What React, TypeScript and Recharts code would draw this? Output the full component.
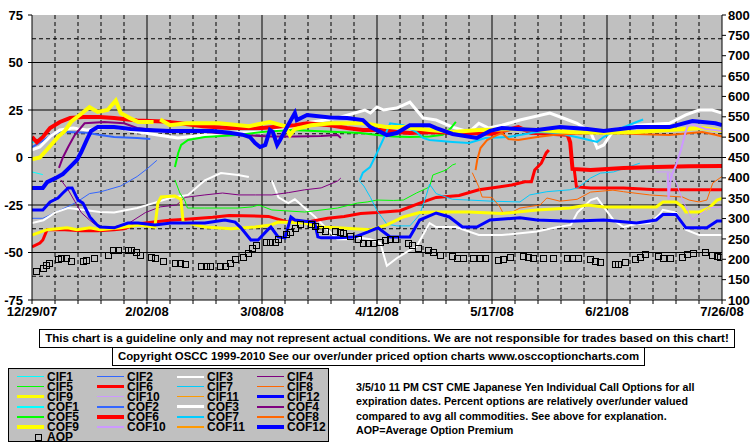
import React from 'react';
import { ComposedChart, Line, Scatter, XAxis, YAxis, CartesianGrid } from 'recharts';

type Pt = [number, number | null];

// x = days since 12/29/07
const tickDays = [0, 35, 70, 105, 140, 175, 210];
const tickLabels = ['12/29/07', '2/02/08', '3/08/08', '4/12/08', '5/17/08', '6/21/08', '7/26/08'];
const leftTicks = [-75, -50, -25, 0, 25, 50, 75];
const rightTicks = [100, 150, 200, 250, 300, 350, 400, 450, 500, 550, 600, 650, 700, 750, 800];

const cif1: Pt[] = [[0, -7.6], [3.3, -9]];
const cif2: Pt[] = [[0, -32], [3.3, -32], [7, -29], [10.7, -26], [13.7, -23.4], [17.5, -19], [21, -18], [23, -17], [27, -15], [30, -12], [32, -10], [35, -6], [38, -1.5]];
const cif3: Pt[] = [[0, -34.5], [3.5, -33], [7, -29], [11, -26.6], [16, -27.6], [20.7, -28.7], [25, -29], [32, -26.6], [37, -24], [42, -21.3], [47.5, -19.7], [52.6, -12], [57.5, -8.2], [62.7, -9.2], [66, -10.3], [68, null],
  [73, -12], [75, -21], [78, -24], [80, -22], [82, -25], [86, -31], [90, -38], [93, -43], [96, -43], [99, -42], [103, -43], [106, -45], [108, -57], [111, -53], [115, -48.7], [117, -47], [121, -34.5], [123, -36.6], [129, -36.6], [136, -40.8], [143, -40.8], [153.7, -39], [160, -36.6], [164, -35.5], [166, -29], [170, -22.4], [172, -21.3], [174, -26], [177, -33], [180, -36.6], [184, -35], [188, -34.5], [191, -30], [192, -27.6], [196, -29], [199, -38], [203, -40.8], [210, -40.8]];
const cif4: Pt[] = [[8.8, -11.8], [11, -17], [13, -23], [15, -29], [17.5, -32.9], [19, -35], [22, -37], [25, -36.6], [30, -34], [34.5, -29], [39, -26], [44, -25], [46.6, -21], [52.6, -19.7], [58, -18.7], [63, -19.7], [68, -19.7], [73, -19.7], [78, -18.5], [83, -17], [88, -16], [93, -12.4], [94, -10.8]];
const cif5: Pt[] = [[43.5, -11.8], [45, -18.7], [46.6, -23], [47.3, -26.6], [52.6, -26.6], [62.7, -26.6], [67, -26], [69, -25], [73, -27.6], [83, -28.7], [93, -26.6], [99, -24], [102, -23.4], [105, -22.4], [110, -22.6], [113, -22.4], [117, -18.7], [121, -15.5], [122, -9.2], [126, -6.6], [128, -3.9], [129, -3.3]];
const cif6: Pt[] = [[0, -47], [2.4, -45], [3.3, -43.4], [4.6, -38], [10, -38], [15, -38.5], [20, -38.5], [25, -38], [28, -37.5], [32, -35], [37, -34], [42, -33], [47, -32.5], [55, -31.5], [60, -30.5], [72, -31], [78, -34], [85, -33.5], [90, -32], [95, -31], [100, -29.5], [105, -29], [112, -28], [118, -24], [123, -21], [130, -20], [136, -17], [142, -15.5], [146, -14.5], [150, -12.8], [152, -12.8], [153, -6.6], [155, -3], [156.5, 2.4], [157.3, 4], [160, null],
  [165, -6], [165.7, -15.5], [170, -16], [180, -16], [190, -17], [200, -17], [210, -17]];
const cif7: Pt[] = [[99.5, -12], [101, -15], [103, -21], [105, -28], [108, -35], [111, -36], [115, -36], [118, -30], [120, -20], [121, -14], [123, -19], [128, -22], [133, -22.4], [140, -23], [148.5, -23.4], [151.5, -19.7], [156.7, -18], [163.7, -17], [166, -16], [170, -10.8], [173, -8.2], [177, -7.6], [185, -3]];
const cif8: Pt[] = [[134, -8], [136, -15.5], [137, -20.8], [140, -21], [142.4, -26], [143.3, -29], [146.4, -28.5], [148.5, -26.6], [154.6, -25], [156.7, -21.3], [160.7, -23], [165.9, -22], [170, -18.2], [176.8, -17.2], [180, -18], [188, -19.7], [198, -20.8], [200, -22.4], [203, -23.4], [205.4, -22.4], [207.2, -13.4], [210, -10]];
const cif9: Pt[] = [[0, -40.8], [4.6, -38], [10.7, -37], [13.7, -38], [17.6, -37], [20.7, -38], [27, -37], [32.3, -35.5], [37.4, -36.6], [38.3, -24], [39.3, -20.8], [43.5, -20.3], [45.3, -22], [46, -34], [52.6, -36.6], [60.6, -37.5], [67.9, -36.6], [72.7, -35.5], [75, -34], [83, -34.5], [88, -36.6], [93, -37], [103, -38], [108, -35.5], [113, -31.3], [118, -29], [123, -28.7], [133, -28.7], [143, -29.5], [153.7, -27.6], [163.7, -26.6], [169, -25], [174, -26], [184, -26], [190, -26], [192, -23.4], [196, -23.4], [198, -26], [199, -28.7], [203, -28.7], [206, -26.6], [208.5, -22.4], [210, -21.6]];
const cif10: Pt[] = [[190, -7.6], [194, -7.6], [196, -13], [198, -22.4], [201, -32.9], [203, -30.3], [206, -26.5], [210, -26]];
const cif11: Pt[] = [];
const cif12: Pt[] = [[0, -27.6], [3.3, -27.6], [5.5, -23.4], [7.9, -21.3], [9.4, -18.7], [11, -16], [12.2, -16], [14, -22.4], [15.5, -24], [17.6, -31.3], [19.8, -35.5], [20.7, -36.6], [25, -37], [29.2, -34.5], [32.3, -34.5], [37.4, -35.5], [42.3, -34.5], [47.5, -34.5], [52.6, -34.5], [58.7, -32.9], [61.8, -34], [63.6, -37], [66.6, -43.4], [68.8, -43.4], [71.8, -38], [72.7, -36.6], [74.9, -41.8], [77, -42.3], [78.8, -31.3], [80, -32.9], [83, -33.5], [86, -34], [87, -41.8], [88, -42.3], [93, -42.3], [98.3, -41.8], [102.3, -39.2], [105.3, -37], [109, -41.8], [115, -41.8], [118, -32.9], [123, -29.2], [127, -31.3], [131, -36.6], [135.4, -36.6], [139.4, -32.9], [148.5, -31.7], [153.7, -32.9], [163.7, -33.5], [174, -32.9], [184, -34.5], [190, -32.9], [192, -30], [196, -30], [199, -37], [205.4, -37], [208.5, -33.4], [210, -33.4]];

const cof1: Pt[] = [[0, 8], [1.5, 8.5], [3.3, 12]];
const cof2: Pt[] = [[0, 5.5], [3.5, 9], [7, 13], [10.7, 13.4], [16.7, 13], [20.7, 11.8], [25, 10.8], [32, 10.3], [36, 9.7]];
const cof3: Pt[] = [[0, 4], [2.4, 5.5], [5.5, 11], [8.5, 14.5], [12.5, 15.5], [16.7, 14.5], [20.7, 15.5], [25, 16], [32.3, 13.4], [42.3, 10.8], [44.4, 10.3], [52.6, 11.8], [62.7, 13], [72.7, 13.4], [83, 18], [93, 20.8], [101.3, 25], [103, 23.4], [105, 26.6], [107, 25], [111, 26], [115, 29.2], [117, 25], [119, 20.8], [123, 19.7], [128, 16], [133, 13.4], [136, 18], [139, 15.5], [143, 17], [148.5, 19.7], [157.6, 23.4], [161.6, 20.8], [165.9, 18], [170, 13.4], [172, 5], [174, 6.6], [177, 14.5], [184, 17], [194, 18], [199, 22.4], [203, 25], [207, 25], [210, 23.4]];
const cof4: Pt[] = [[8.2, -5.5], [9.4, 0], [11, 5.5], [13, 11.8], [16, 18], [22, 18.7], [28, 18], [32, 15.5], [42, 13.4], [52.6, 13.4], [62.7, 12], [72.7, 11], [80, 11], [88, 11.3], [93, 11.8], [94, 10.3]];
const cof5: Pt[] = [[43.5, -5], [44.5, 2.4], [45.4, 6.6], [47.5, 9.2], [52.6, 10.8], [62.7, 11.8], [70, 13.4], [79, 14.5], [93, 13.4], [100, 12.9], [105, 11.8], [110, 11], [115, 10.8], [121, 11], [125, 12], [127.5, 15.5], [129, 18.7]];
const cof6: Pt[] = [[0, 10.8], [1.5, 8], [3.3, 10.8], [5.5, 15.5], [8.5, 18.7], [11.6, 20.8], [15.5, 21.3], [20.7, 21.3], [25, 20.8], [32, 19.5], [40, 19], [45, 18], [52, 16.5], [60, 15.5], [70, 15.5], [80, 17], [83.7, 18], [90.7, 17], [95.9, 15.5], [100.7, 14.5], [106, 14.5], [111, 13.4], [115, 12.9], [121, 13.4], [130, 13], [140, 12.5], [148, 16], [152, 13], [163, 12], [163.8, 8], [164.5, -6], [170, -6.6], [180, -5.5], [190, -5], [200, -4.6], [210, -4.5]];
const cof7: Pt[] = [[99.8, -11.8], [100.7, -8], [102.9, -5], [105, 2.4], [106.8, 9.2], [109, 18], [113, 17], [117, 13.4], [119, 10.3], [121, 9.2], [128, 8.2], [133, 7.6], [138, 10.3], [145, 10.8], [153.7, 13.4], [160, 12.9], [167, 10.3], [172, 8.2], [174, 10.8], [178, 14.5], [184, 18.7], [186, 20]];
const cof8: Pt[] = [[135, -6.6], [135.5, -1.3], [136.5, 5], [138.5, 9.2], [141.5, 11.8], [143, 12.9], [145, 9.7], [148, 9.2], [153.7, 10.8], [158.6, 11.8], [163.7, 12.4], [174, 13], [184, 12.4], [194, 11.8], [204, 13.4], [208, 12], [210, 11]];
const cof9: Pt[] = [[0, -1], [2.4, 0], [5, 5], [8, 11], [10, 14], [12, 19], [15, 23], [17.5, 26.5], [20, 24], [23, 25], [25.5, 30], [27, 23.4], [29.5, 21], [32.3, 18.7], [37, 18.7], [38, null], [39, 20], [42, 17], [47, 18], [57, 18], [66, 16.5], [72.4, 18.7], [77, 16.5], [78.5, 11.8], [80, 15], [85, 17], [91, 18], [101, 18], [108, 16], [113, 16], [121, 14.5], [128, 13.4], [136, 14.5], [148, 15], [163.7, 13.4], [174, 13], [184, 13.4], [194, 14.5], [204, 15.5], [210, 14]];
const cof10: Pt[] = [[193.5, -8], [193.7, -22], [194.5, -10], [196, -4], [197.5, 4], [199, 14], [200, 18], [205, 15], [210, 14]];
const cof11: Pt[] = [];
const cof12: Pt[] = [[0, -16], [3.3, -16], [4.6, -13], [7, -11], [9.4, -8.7], [11, -6], [13.7, -1.3], [15, 2.9], [16.6, 9], [18, 14], [20, 16], [25, 16], [30, 15], [35, 14.5], [42, 14], [50, 14], [55, 14], [60, 13], [64, 12], [66.3, 10.8], [67.9, 7.6], [69.4, 5.5], [71, 6.6], [72.4, 14.5], [73.3, 13.4], [74.6, 6.6], [75.5, 9.2], [77.6, 16], [80, 23.4], [80.6, 19.7], [83.7, 22.4], [90.7, 21], [95.9, 20.8], [100.7, 19.7], [103, 16], [108, 11.8], [111, 12.9], [115, 17], [121, 17], [123, 15.5], [128, 12.4], [135.4, 10.3], [139.4, 14], [143, 15.5], [153.7, 14.5], [160.7, 16], [169, 15], [174, 14], [184, 16], [194, 16], [201, 19.2], [208, 18], [210, 17]];

// Average Option Premium (right axis)
const aop: Pt[] = [[1.2, 171], [3.3, 179], [4.3, 186], [5.2, 191], [7.9, 201], [8.8, 203], [10.3, 203], [11.9, 196], [15.5, 196], [16.4, 198], [18.9, 203], [23.1, 211], [24.7, 223], [26.2, 223], [29.2, 223], [30.1, 223], [31.6, 218], [32.9, 211], [36.2, 206], [37.4, 203], [39.9, 196], [43.5, 191], [45, 191], [46.6, 188], [51.4, 184], [53, 184], [54.2, 184], [57.2, 184], [58.7, 184], [60.3, 191], [61.8, 201], [64.2, 206], [65.7, 215], [67, 228], [68.2, 235], [71.2, 242], [72.4, 242], [74, 242], [74.9, 250], [77.3, 262], [78.5, 267], [80, 277], [81.6, 287], [84.9, 287], [86.1, 282], [87.6, 274], [89.2, 269], [92.2, 269], [93.7, 267], [94.6, 265], [96.8, 257], [99.2, 250], [100.7, 240], [102.3, 240], [103.8, 240], [105.9, 242], [107.4, 247], [109, 250], [110.5, 250], [114.4, 240], [115.6, 235], [117.5, 228], [120.5, 223], [122, 218], [124.2, 211], [127.8, 208], [129.3, 203], [131.2, 203], [134.2, 203], [136.3, 203], [137.9, 203], [141.8, 198], [143.3, 201], [145.5, 206], [149.4, 208], [150.9, 206], [152.5, 203], [155.5, 203], [158.5, 203], [162.8, 203], [164.3, 203], [166.2, 203], [169.8, 201], [171.3, 196], [172.9, 193], [177.4, 188], [178.3, 188], [180.5, 193], [183.5, 201], [185, 206], [186.5, 213], [190.5, 208], [192, 203], [194.2, 203], [197.8, 206], [199.3, 213], [201.2, 215], [204.8, 218], [206.9, 211], [208.5, 208], [209.4, 206]];

const seriesDefs = [
  { name: 'CIF1', points: cif1, color: '#00FFFF', width: 1 },
  { name: 'CIF2', points: cif2, color: '#3366FF', width: 1 },
  { name: 'CIF3', points: cif3, color: '#FFFFFF', width: 2 },
  { name: 'CIF4', points: cif4, color: '#800080', width: 1 },
  { name: 'CIF5', points: cif5, color: '#00FF00', width: 1 },
  { name: 'CIF6', points: cif6, color: '#FF0000', width: 3 },
  { name: 'CIF7', points: cif7, color: '#00CCFF', width: 1 },
  { name: 'CIF8', points: cif8, color: '#FF6600', width: 1 },
  { name: 'CIF9', points: cif9, color: '#FFFF00', width: 3 },
  { name: 'CIF10', points: cif10, color: '#CC99FF', width: 1 },
  { name: 'CIF11', points: cif11, color: '#FF9900', width: 1 },
  { name: 'CIF12', points: cif12, color: '#0000FF', width: 3 },
  { name: 'COF1', points: cof1, color: '#00FFFF', width: 2 },
  { name: 'COF2', points: cof2, color: '#3366FF', width: 2 },
  { name: 'COF3', points: cof3, color: '#FFFFFF', width: 3 },
  { name: 'COF4', points: cof4, color: '#800080', width: 2 },
  { name: 'COF5', points: cof5, color: '#00FF00', width: 2 },
  { name: 'COF6', points: cof6, color: '#FF0000', width: 4 },
  { name: 'COF7', points: cof7, color: '#00CCFF', width: 2 },
  { name: 'COF8', points: cof8, color: '#FF6600', width: 2 },
  { name: 'COF9', points: cof9, color: '#FFFF00', width: 4 },
  { name: 'COF10', points: cof10, color: '#CC99FF', width: 2 },
  { name: 'COF11', points: cof11, color: '#FF9900', width: 2 },
  { name: 'COF12', points: cof12, color: '#0000FF', width: 4 },
];

const FONT = "'Liberation Sans Narrow', 'Liberation Sans', Arial, sans-serif";

const toRows = (pts: Pt[]) => pts.map(([d, v]) => ({ d, v }));
const aopRows = aop.map(([d, a]) => ({ d, a }));

const dashedH = [-62.5, -37.5, -12.5, 12.5, 37.5, 62.5];
const solidH = [-50, -25, 0, 25, 50];
const dashedV = Array.from({ length: 29 }, (_, i) => (i + 1) * 7).filter((d) => d % 35 !== 0);
const solidV = [35, 70, 105, 140, 175];
const weekTicks = Array.from({ length: 31 }, (_, i) => i * 7);

const AopSquare = (props: any) => {
  const { cx, cy } = props;
  if (cx == null || cy == null) return null;
  return <rect x={Math.round(cx) - 2.5} y={Math.round(cy) - 2.5} width={6} height={6} fill="none" stroke="#000" strokeWidth={1} />;
};

const tickStyle = { fill: '#000', fontSize: 13, fontWeight: 700, fontFamily: FONT };

function LegendBox() {
  const items = [...seriesDefs.map((s) => ({ name: s.name, color: s.color, width: s.width, square: false })), { name: 'AOP', color: '#000', width: 1, square: true }];
  return (
    <div style={{ position: 'absolute', left: 8, top: 368, width: 319, height: 72, background: '#C0C0C0', border: '1px solid #000' }}>
      {items.map((it, i) => {
        const col = i % 4;
        const row = Math.floor(i / 4);
        const left = 8 + col * 80;
        const top = 3 + row * 10;
        return (
          <div key={it.name} style={{ position: 'absolute', left, top, width: 80, height: 10 }}>
            {it.square ? (
              <div style={{ position: 'absolute', left: 18, top: 2, width: 5, height: 5, border: '1px solid #000' }} />
            ) : (
              <div style={{ position: 'absolute', left: 0, top: 5 - Math.ceil(it.width / 2), width: 27, height: Math.max(1, it.width), background: it.color }} />
            )}
            <span style={{ position: 'absolute', left: 30, top: 0, fontSize: 12, fontWeight: 700, lineHeight: '10px', whiteSpace: 'nowrap' }}>{it.name}</span>
          </div>
        );
      })}
    </div>
  );
}

export default function App() {
  return (
    <div style={{ position: 'absolute', left: 0, top: 0, width: 755, height: 446, background: '#fff', fontFamily: FONT, color: '#000' }}>
      <ComposedChart width={755} height={325} margin={{ top: 15, right: 0, bottom: 0, left: 0 }}>
        <CartesianGrid yAxisId="left" fill="#C0C0C0" stroke="#000" strokeDasharray="4 3" horizontalValues={dashedH} verticalValues={dashedV} />
        <CartesianGrid yAxisId="left" stroke="#000" horizontalValues={solidH} verticalValues={solidV} />
        <XAxis
          dataKey="d"
          type="number"
          domain={[0, 210]}
          ticks={weekTicks}
          interval={0}
          tickFormatter={(d: number) => (tickDays.includes(d) ? tickLabels[tickDays.indexOf(d)] : '')}
          height={25}
          tickSize={4}
          tickMargin={3}
          tick={tickStyle}
          axisLine={{ stroke: '#000' }}
          tickLine={{ stroke: '#000' }}
          allowDataOverflow
        />
        <YAxis yAxisId="left" type="number" domain={[-75, 75]} ticks={leftTicks} interval={0} width={32} tickSize={4} tickMargin={5} tick={tickStyle} axisLine={{ stroke: '#000' }} tickLine={{ stroke: '#000' }} allowDataOverflow />
        <YAxis yAxisId="right" orientation="right" type="number" domain={[100, 800]} ticks={rightTicks} interval={0} width={33} tickSize={4} tickMargin={2} tick={{ ...tickStyle, textAnchor: 'start' }} axisLine={{ stroke: '#000' }} tickLine={{ stroke: '#000' }} allowDataOverflow />
        {seriesDefs.map((s) => (
          <Line
            key={s.name}
            name={s.name}
            yAxisId="left"
            data={toRows(s.points)}
            dataKey="v"
            type="linear"
            stroke={s.color}
            strokeWidth={s.width}
            dot={false}
            activeDot={false}
            connectNulls={false}
            isAnimationActive={false}
          />
        ))}
        <Scatter name="AOP" yAxisId="right" data={aopRows} dataKey="a" shape={AopSquare} isAnimationActive={false} />
      </ComposedChart>

      <div style={{ position: 'absolute', left: 39, top: 329, width: 694, height: 17, border: '1px solid #000', fontSize: 11.5, fontWeight: 700, lineHeight: '17px', textAlign: 'center', whiteSpace: 'nowrap' }}>
        This chart is a guideline only and may not represent actual conditions. We are not responsible for trades based on this chart!
      </div>
      <div style={{ position: 'absolute', left: 112, top: 347, width: 531, height: 17, border: '1px solid #000', fontSize: 11.4, fontWeight: 700, lineHeight: '17px', textAlign: 'center', whiteSpace: 'nowrap' }}>
        Copyright OSCC 1999-2010 See our over/under priced option charts www.osccoptioncharts.com
      </div>

      <LegendBox />

      <div style={{ position: 'absolute', left: 356, top: 380, width: 390, fontSize: 10.7, fontWeight: 700, lineHeight: '14.3px' }}>
        <div>3/5/10 11 PM CST CME Japanese Yen Individual Call Options for all</div>
        <div>expiration dates. Percent options are relatively over/under valued</div>
        <div>compared to avg all commodities. See above for explanation.</div>
        <div>AOP=Average Option Premium</div>
      </div>
    </div>
  );
}
